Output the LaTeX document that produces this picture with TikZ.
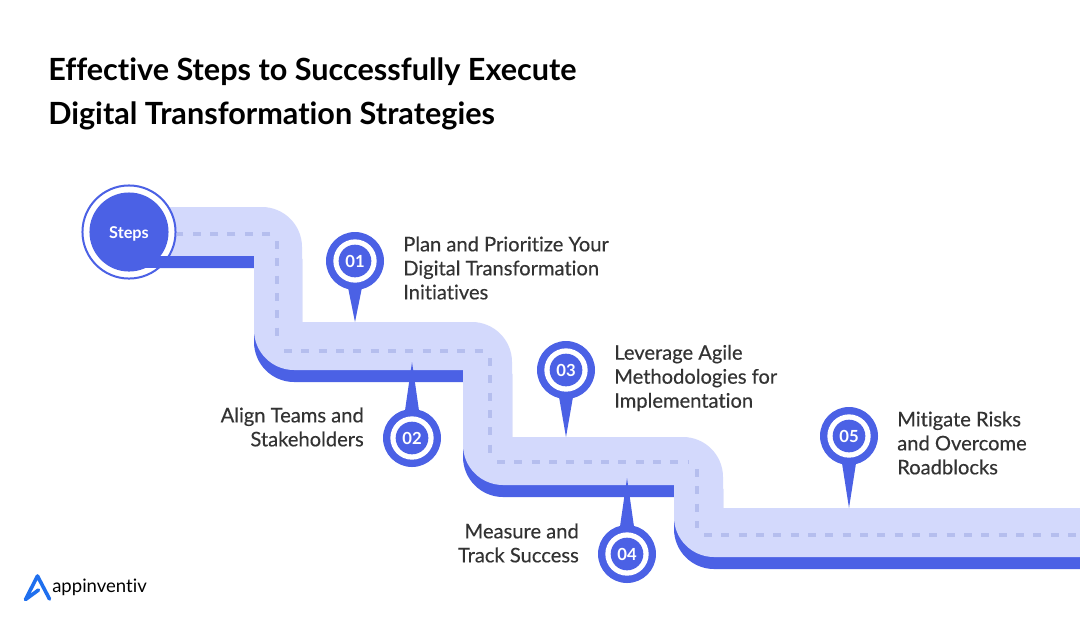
\documentclass[tikz,border=0pt]{standalone}
\usepackage{fontspec}
\setmainfont[Ligatures=NoCommon]{Lato}
\definecolor{pathblue}{HTML}{4B61E5}
\definecolor{roadblue}{HTML}{D3D9FC}
\definecolor{dashblue}{HTML}{B5BEEE}
\definecolor{logoblue}{HTML}{1F6FEE}
\definecolor{bodygrey}{HTML}{333333}
\tikzset{
  roaddash/.style={draw=dashblue,line width=3.2pt,dash pattern=on 6pt off 7pt},
  pinring/.style={circle,fill=pathblue,draw=none,minimum size=43.5pt,inner sep=0pt},
  pinwhite/.style={circle,fill=white,draw=none,minimum size=32.5pt,inner sep=0pt},
  pincore/.style={circle,fill=pathblue,draw=none,minimum size=24.5pt,inner sep=0pt},
  pinlabel/.style={inner sep=0pt,text=white,font=\fontsize{12.5}{14}\selectfont\bfseries},
  steptext/.style={inner sep=0pt,text=bodygrey,font=\fontsize{15.1}{18}\selectfont\addfontfeatures{FakeBold=0.3}},
  titletext/.style={inner sep=0pt,anchor=west,text=black,font=\fontsize{22.95}{26}\selectfont\bfseries},
}
\newcommand{\roadshape}{%
  (129,207) -- (262,207) .. controls (284,207) and (302,225) .. (302,247)
  -- (302,322) -- (472,322) .. controls (494,322) and (512,340) .. (512,362)
  -- (512,437) -- (683,437) .. controls (705,437) and (723,455) .. (723,477)
  -- (723,508) -- (1080,508) -- (1080,557) -- (714,557)
  .. controls (692,557) and (674,539) .. (674,517)
  -- (674,485) -- (503,485) .. controls (481,485) and (463,467) .. (463,445)
  -- (463,370) -- (294,370) .. controls (272,370) and (254,352) .. (254,330)
  -- (254,256) -- (129,256) -- cycle}
\newcommand{\stagepin}[6]{% name, cx, cy, tip y, base side, label
  \fill[pathblue] (#2-7.5,#3+#5*24) -- (#2,#4) -- (#2+7.5,#3+#5*24) -- cycle;
  \node[pinring] (#1ring) at (#2,#3) {};
  \node[pinwhite] (#1white) at (#2,#3) {};
  \node[pincore] (#1) at (#2,#3) {};
  \node[pinlabel] (#1label) at (#2,#3+0.8) {#6};
}
\begin{document}
\begin{tikzpicture}[x=0.75pt,y=-0.75pt]
\useasboundingbox[fill=white] (0,0) rectangle (1080,626);
% road
\fill[pathblue,yshift=-9pt] \roadshape;
\fill[roadblue] \roadshape;
% centre line
\draw[roaddash] (270,234) -- (177,234);
\draw[roaddash] (277,241) -- (277,344);
\draw[roaddash] (284,351) -- (483,351);
\draw[roaddash] (490,358) -- (490,455);
\draw[roaddash] (497,462) -- (689,462);
\draw[roaddash] (697,469) -- (697,528);
\draw[roaddash] (704,535) -- (1080,535);
% start marker
\node[circle,fill=white,draw=pathblue,line width=1.5pt,minimum size=69.8pt,inner sep=0pt] (startring) at (129,232) {};
\fill[pathblue] (130,256) rectangle (254,268);
\node[circle,fill=pathblue,minimum size=59.3pt,inner sep=0pt] (start) at (129,232) {};
\node[inner sep=0pt,text=white,font=\fontsize{12.2}{14}\selectfont\bfseries] (startlabel) at (129,233.5) {Steps};
% pins
\stagepin{one}{355}{261}{322}{1}{01}
\stagepin{two}{412}{438}{362}{-1}{02}
\stagepin{three}{566}{370}{437}{1}{03}
\stagepin{four}{627}{554}{478}{-1}{04}
\stagepin{five}{849}{436}{508}{1}{05}
% title
\node[titletext] (title1) at (48,71.5) {Effective Steps to Successfully Execute};
\node[titletext] (title2) at (48,115.5) {Digital Transformation Strategies};
% labels
\node[steptext,anchor=west,align=left] (l1) at (403,268) {Plan and Prioritize Your\\Digital Transformation\\Initiatives};
\node[steptext,anchor=east,align=right] (l2) at (364,427) {Align Teams and\\Stakeholders};
\node[steptext,anchor=west,align=left] (l3) at (614,378) {Leverage Agile\\Methodologies for\\Implementation};
\node[steptext,anchor=east,align=right] (l4) at (579,543) {Measure and\\Track Success};
\node[steptext,anchor=west,align=left] (l5) at (897,443) {Mitigate Risks\\and Overcome\\Roadblocks};
% logo
\draw[logoblue,line width=2.7pt,line cap=round,line join=round] (38.5,590) -- (25.5,599.5) -- (37.5,576) -- (49.5,599);
\node[inner sep=0pt,anchor=base west,text=black,font=\fontsize{13.9}{16}\selectfont] (logo) at (52,592) {appinventiv};
\end{tikzpicture}
\end{document}
